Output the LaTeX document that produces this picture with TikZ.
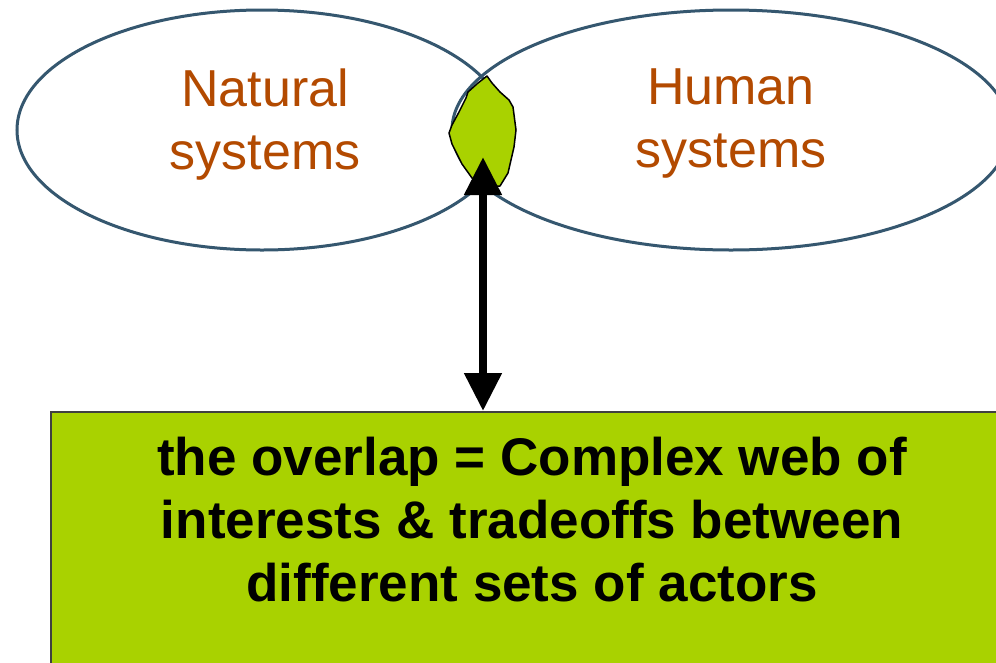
\documentclass[tikz,border=0pt]{standalone}
\usepackage{fontspec}
\setmainfont{Liberation Sans}
\usetikzlibrary{shapes.geometric,arrows.meta}
\definecolor{ellline}{HTML}{35576F}
\definecolor{labtxt}{HTML}{B34A00}
\definecolor{leafgreen}{HTML}{A9D200}
\definecolor{boxline}{HTML}{404040}
\tikzset{
  sysell/.style={ellipse, draw=ellline, line width=3pt, minimum height=240pt, inner sep=0pt},
  systxt/.style={text=labtxt, align=center, font=\fontsize{52}{63}\selectfont, inner sep=0pt, anchor=north},
  leafshape/.style={fill=leafgreen, draw=black, line width=1.5pt, line join=round},
  bigbox/.style={rectangle, fill=leafgreen, draw=boxline, line width=1.5pt, inner sep=0pt},
  boxtxt/.style={align=center, font=\fontsize{53}{63}\selectfont\bfseries, inner sep=0pt, anchor=north},
  dblarrow/.style={line width=8pt, {Triangle[width=36pt,length=38pt]}-{Triangle[width=36pt,length=38pt]}},
}
\begin{document}
\begin{tikzpicture}[x=1pt,y=-1pt]
\useasboundingbox (0,0) rectangle (996,662);
\clip (0,0) rectangle (996,662);
\fill[white] (0,0) rectangle (996,662);
% ellipses
\node[sysell, minimum width=490pt] (nat) at (262,130) {};
\node[sysell, minimum width=558pt] (hum) at (731,130) {};
% leaf (overlap)
\draw[leafshape] (487,76) -- (478,83) -- (468,92) -- (466,98) -- (459,112) -- (452,125)
  -- (449,133) -- (452,144) -- (462,164) -- (472,178) -- (482,186) -- (500,186)
  -- (508,173) -- (514,147) -- (516,130) -- (513,107) -- (509,100) -- (500,92)
  -- (492,83) -- cycle;
\coordinate (leaf) at (483,157);
% labels
\node[systxt] (nattext) at (265,69) {Natural\\systems};
\node[systxt] (humtext) at (731,69) {Human\\systems};
% box
\node[bigbox, minimum width=964pt, minimum height=262pt, anchor=north west] (box) at (50,411) {};
\node[boxtxt] (boxtext) at (532,436.5) {the overlap = Complex web of\\interests \& tradeoffs between\\different sets of actors};
% arrow
\draw[dblarrow] (leaf) -- (leaf |- box.north);
\end{tikzpicture}
\end{document}
